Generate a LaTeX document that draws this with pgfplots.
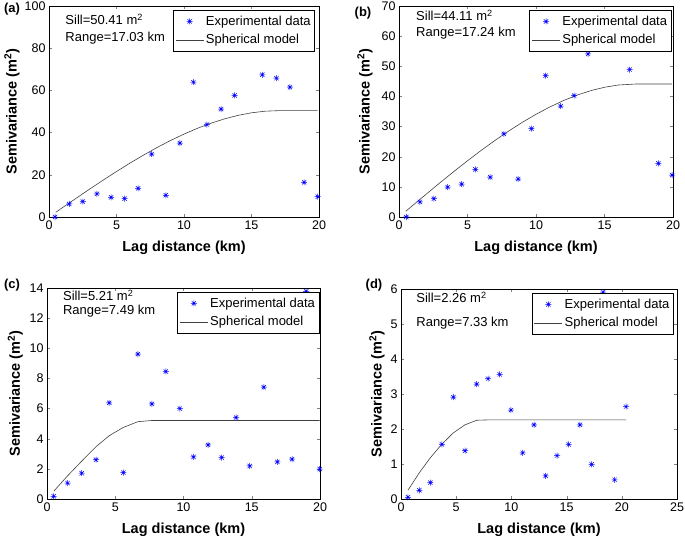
\documentclass[border=0pt]{standalone}
\usepackage{fontspec}
\setmainfont{Liberation Sans}
\usepackage{pgfplots}
\pgfplotsset{compat=1.18}
\pgfdeclareplotmark{mstar}{%
 \pgfpathmoveto{\pgfqpoint{-\pgfplotmarksize}{0pt}}\pgfpathlineto{\pgfqpoint{\pgfplotmarksize}{0pt}}%
 \pgfpathmoveto{\pgfqpoint{0pt}{-\pgfplotmarksize}}\pgfpathlineto{\pgfqpoint{0pt}{\pgfplotmarksize}}%
 \pgfpathmoveto{\pgfqpoint{-.707\pgfplotmarksize}{-.707\pgfplotmarksize}}\pgfpathlineto{\pgfqpoint{.707\pgfplotmarksize}{.707\pgfplotmarksize}}%
 \pgfpathmoveto{\pgfqpoint{-.707\pgfplotmarksize}{.707\pgfplotmarksize}}\pgfpathlineto{\pgfqpoint{.707\pgfplotmarksize}{-.707\pgfplotmarksize}}%
 \pgfusepathqstroke}
\definecolor{modelgray}{RGB}{64,64,64}
\pgfplotsset{
  vario/.style={
    scale only axis, anchor=south west, clip=false,
    /pgf/number format/assume math mode=true,
    tick label style={font=\fontsize{12.5}{14}\selectfont},
    label style={font=\fontsize{14.5}{16}\selectfont\bfseries},
    xlabel={Lag distance (km)},
    ylabel={Semivariance (m\textsuperscript{2})},
    xlabel style={at={(axis description cs:0.5,-0.147)}, anchor=center},
    tick align=inside, major tick length=3pt,
    xmin=0, xmax=20, xtick={0,5,10,15,20},
    axis line style={line width=0.5pt},
    legend style={at={(rel axis cs:0.985,0.98)}, anchor=north east, draw=black, line width=0.5pt,
      font=\fontsize{13}{15}\selectfont, legend cell align=left, inner xsep=2pt, inner ysep=3.5pt, row sep=3.5pt},
  },
  expdata/.style={only marks, mark=mstar, mark size=3pt, color=blue, line width=0.5pt,
    legend image code/.code={\draw[mark repeat=2,mark phase=2,##1] plot coordinates {(0pt,0pt)(14pt,0pt)(28pt,0pt)};}},
  model/.style={color=modelgray, line width=0.6pt, no marks,
    legend image code/.code={\draw[##1] (0pt,0pt) -- (28pt,0pt);}},
}
\begin{document}
\begin{tikzpicture}
\useasboundingbox (0,0) rectangle (685pt,539pt);
% (a)
\begin{axis}[vario, at={(49pt,322pt)}, width=270pt, height=211pt,
  ymin=0, ymax=100, ytick={0,20,40,60,80,100},
  ylabel style={at={(axis description cs:-0.137,0.5)}, anchor=center}]
\addplot[expdata] coordinates {
 (0.45,0) (1.5,6.2) (2.5,7.3) (3.55,11.0) (4.6,9.3) (5.6,8.7) (6.6,13.6) (7.6,29.8)
 (8.65,10.3) (9.7,35.0) (10.7,63.9) (11.7,43.8) (12.75,51.1) (13.75,57.6)
 (15.8,67.4) (16.85,65.8) (17.85,61.5) (18.9,16.4) (19.9,9.6)};
\addlegendentry{Experimental data}
\addplot[model] coordinates {
 (0.5,2.22) (1,4.44) (2,8.84) (3,13.18) (4,17.43) (5,21.56) (6,25.54) (7,29.33)
 (8,32.91) (9,36.24) (10,39.30) (11,42.05) (12,44.46) (13,46.51) (14,48.16)
 (15,49.38) (16,50.14) (17.03,50.41) (19.9,50.41)};
\addlegendentry{Spherical model}
\node[anchor=west, font=\fontsize{13}{15}\selectfont] at (rel axis cs:0.048,0.938) {Sill=50.41 m\textsuperscript{2}};
\node[anchor=west, font=\fontsize{13}{15}\selectfont] at (rel axis cs:0.048,0.848) {Range=17.03 km};
\end{axis}
% (b)
\begin{axis}[vario, at={(399pt,322pt)}, width=274pt, height=211pt,
  ymin=0, ymax=70, ytick={0,10,20,30,40,50,60,70},
  ylabel style={at={(axis description cs:-0.124,0.5)}, anchor=center},
  legend style={at={(rel axis cs:0.994,0.98)}}]
\addplot[expdata] coordinates {
 (0.53,0) (1.53,5.0) (2.55,6.1) (3.55,9.9) (4.57,10.9) (5.57,15.8) (6.66,13.2)
 (7.65,27.6) (8.7,12.6) (9.67,29.3) (10.7,46.9) (11.8,36.8) (12.78,40.3) (13.8,54.1)
 (16.84,48.9) (18.93,17.8) (19.93,13.9)};
\addlegendentry{Experimental data}
\addplot[model] coordinates {
 (0.5,1.92) (1,3.83) (2,7.64) (3,11.40) (4,15.08) (5,18.65) (6,22.10) (7,25.39)
 (8,28.50) (9,31.40) (10,34.07) (11,36.49) (12,38.62) (13,40.44) (14,41.92)
 (15,43.04) (16,43.78) (17.24,44.11) (19.93,44.11)};
\addlegendentry{Spherical model}
\node[anchor=west, font=\fontsize{13}{15}\selectfont] at (rel axis cs:0.05,0.957) {Sill=44.11 m\textsuperscript{2}};
\node[anchor=west, font=\fontsize{13}{15}\selectfont] at (rel axis cs:0.05,0.87) {Range=17.24 km};
\end{axis}
% (c)
\begin{axis}[vario, at={(47pt,40pt)}, width=273pt, height=211pt,
  ymin=0, ymax=14, ytick={0,2,4,6,8,10,12,14},
  ylabel style={at={(axis description cs:-0.116,0.5)}, anchor=center},
  legend style={at={(rel axis cs:0.997,0.98)}}]
\addplot[expdata] coordinates {
 (0.49,0.18) (1.51,1.06) (2.54,1.71) (3.59,2.61) (4.56,6.38) (5.59,1.75) (6.66,9.61)
 (7.68,6.31) (8.7,8.46) (9.73,6.0) (10.73,2.79) (11.8,3.59) (12.8,2.75) (13.85,5.41)
 (14.85,2.19) (15.88,7.42) (16.88,2.46) (17.95,2.64) (18.98,13.78) (19.98,1.99)};
\addlegendentry{Experimental data}
\addplot[model] coordinates {
 (0.5,0.52) (1.51,1.54) (2.54,2.51) (3.59,3.47) (4.56,4.20) (5.59,4.75) (6.66,5.13)
 (7.68,5.21) (19.98,5.21)};
\addlegendentry{Spherical model}
\node[anchor=west, font=\fontsize{13}{15}\selectfont] at (rel axis cs:0.046,0.965) {Sill=5.21 m\textsuperscript{2}};
\node[anchor=west, font=\fontsize{13}{15}\selectfont] at (rel axis cs:0.046,0.89) {Range=7.49 km};
\end{axis}
% (d)
\begin{axis}[vario, at={(401pt,40pt)}, width=276pt, height=210pt,
  xmax=25, xtick={0,5,10,15,20,25},
  ymin=0, ymax=6, ytick={0,1,2,3,4,5,6},
  ylabel style={at={(axis description cs:-0.087,0.5)}, anchor=center},
  legend style={at={(rel axis cs:0.988,0.98)}}]
\addplot[expdata] coordinates {
 (0.63,0.05) (1.66,0.25) (2.66,0.47) (3.71,1.56) (4.74,2.91) (5.8,1.38) (6.85,3.28)
 (7.88,3.44) (8.94,3.56) (9.96,2.54) (11.02,1.32) (12.05,2.12) (13.1,0.66) (14.13,1.24)
 (15.19,1.56) (16.21,2.12) (17.27,0.99) (18.3,5.91) (19.35,0.55) (20.38,2.64)};
\addlegendentry{Experimental data}
\addplot[model] coordinates {
 (0.63,0.25) (1.66,0.75) (2.66,1.18) (3.71,1.57) (4.74,1.89) (5.8,2.12) (6.85,2.25)
 (7.88,2.26) (20.38,2.26)};
\addlegendentry{Spherical model}
\node[anchor=west, font=\fontsize{13}{15}\selectfont] at (rel axis cs:0.043,0.96) {Sill=2.26 m\textsuperscript{2}};
\node[anchor=west, font=\fontsize{13}{15}\selectfont] at (rel axis cs:0.043,0.836) {Range=7.33 km};
\end{axis}
% panel labels
\node[font=\fontsize{13}{15}\selectfont\bfseries] at (12pt,530pt) {(a)};
\node[font=\fontsize{13}{15}\selectfont\bfseries] at (363pt,526pt) {(b)};
\node[font=\fontsize{13}{15}\selectfont\bfseries] at (12pt,254pt) {(c)};
\node[font=\fontsize{13}{15}\selectfont\bfseries] at (374pt,254pt) {(d)};
\end{tikzpicture}
\end{document}
